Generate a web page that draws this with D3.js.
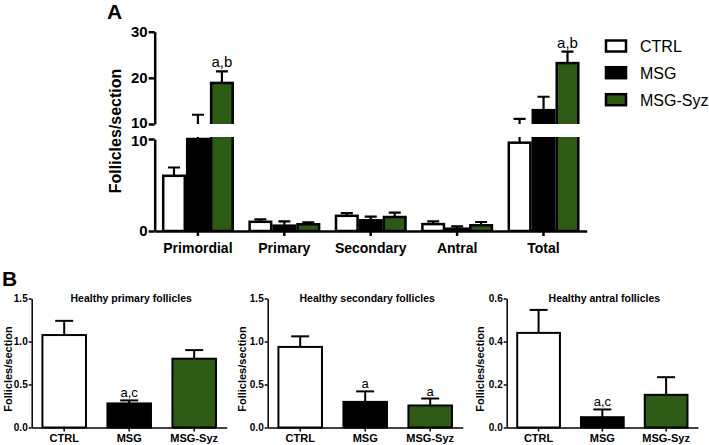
<!DOCTYPE html>
<html><head><meta charset="utf-8">
<script src="https://cdn.jsdelivr.net/npm/d3@7"></script>
<style>
body{margin:0;background:#fff;}
svg{display:block;font-family:"Liberation Sans",Arial,Helvetica,sans-serif;}
</style></head>
<body><svg id="c" width="709" height="445"></svg>
<script>
// ---------- DATA ----------
const categoriesA = ["Primordial","Primary","Secondary","Antral","Total"];
const seriesNames = ["CTRL","MSG","MSG-Syz"];
const seriesColors = ["#ffffff","#000000","#2d5a14"];
const ctrlA    = [6.0, 1.0, 1.65, 0.75, 9.6];
const ctrlErrA = [0.9, 0.27, 0.3, 0.3, 1.5];
const msgA     = [10.0, 0.58, 1.16, 0.25, 13.0];
const msgErrA  = [2.0, 0.47, 0.4, 0.25, 2.9];
const syzA     = [18.9, 0.73, 1.52, 0.62, 23.2];
const syzErrA  = [2.5, 0.21, 0.47, 0.36, 2.5];
const labelsA  = [["","","a,b"],["","",""],["","",""],["","",""],["","","a,b"]];
const lowerTicksA = [0, 10];
const upperTicksA = [10, 20, 30];

const categoriesB = ["CTRL","MSG","MSG-Syz"];
const primaryB     = [1.075, 0.28, 0.80];
const primaryErrB  = [0.165, 0.035, 0.10];
const primaryLblB  = ["", "a,c", ""];
const secondaryB    = [0.937, 0.298, 0.256];
const secondaryErrB = [0.123, 0.122, 0.081];
const secondaryLblB = ["", "a", "a"];
const antralB    = [0.44, 0.048, 0.152];
const antralErrB = [0.107, 0.036, 0.082];
const antralLblB = ["", "a,c", ""];
const ticksB1 = [0, 0.5, 1.0, 1.5];
const ticksB3 = [0, 0.2, 0.4, 0.6];

// ---------- PANEL A ----------
const svg = d3.select("#c");
const A = svg.append("g");
const axL = 154.7, axR = 586.7;
const yLow = d3.scaleLinear().domain([0,10]).range([231,139]);
const yUp  = d3.scaleLinear().domain([10,30]).range([124,31.7]);
const x0 = d3.scaleBand().domain(categoriesA).range([axL,axR]).padding(0);
const x1 = d3.scaleBand().domain(seriesNames).range([8.5,78]).paddingInner(0.1);

const defs = svg.append("defs");
defs.append("clipPath").attr("id","clipLow").append("rect")
  .attr("x",axL).attr("y",yLow(10)-2).attr("width",axR-axL).attr("height",yLow(0)-yLow(10)+2);
defs.append("clipPath").attr("id","clipUp").append("rect")
  .attr("x",axL).attr("y",0).attr("width",axR-axL).attr("height",yUp(10));

const valsA = [ctrlA, msgA, syzA];
const errsA = [ctrlErrA, msgErrA, syzErrA];
const recs = [];
categoriesA.forEach((c,i)=>seriesNames.forEach((s,j)=>recs.push({c,s,j,v:valsA[j][i],e:errsA[j][i],lab:labelsA[i][j]})));

const segs = [{y:yLow, clip:"clipLow", lo:0, hi:10},{y:yUp, clip:"clipUp", lo:10, hi:30}];
segs.forEach(sg=>{
  const g = A.append("g").attr("clip-path",`url(#${sg.clip})`);
  recs.forEach(d=>{
    const bx = x0(d.c)+x1(d.s), bw = x1.bandwidth();
    const cx = bx+bw/2;
    const eTop = d.v+d.e;
    g.append("line").attr("x1",cx).attr("x2",cx)
      .attr("y1",sg.y(Math.max(d.v,sg.lo-1))).attr("y2",sg.y(eTop))
      .attr("stroke","#000").attr("stroke-width",2.2);
    g.append("line").attr("x1",cx-6).attr("x2",cx+6)
      .attr("y1",sg.y(eTop)).attr("y2",sg.y(eTop))
      .attr("stroke","#000").attr("stroke-width",2.2);
    if (d.v > sg.lo) {
      const yb = sg.y(sg.lo)+ (sg.lo>0?4:0);
      g.append("rect").attr("x",bx).attr("width",bw)
        .attr("y",sg.y(d.v)).attr("height",yb-sg.y(d.v))
        .attr("fill",seriesColors[d.j]).attr("stroke","#000").attr("stroke-width",2.5);
    }
  });
});
recs.filter(d=>d.lab).forEach(d=>{
  const cx = x0(d.c)+x1(d.s)+x1.bandwidth()/2;
  const y = d.v+d.e>10 ? yUp(d.v+d.e) : yLow(d.v+d.e);
  A.append("text").attr("x",cx).attr("y",y-4).attr("text-anchor","middle")
    .attr("font-size",15).text(d.lab);
});

function styleAxis(g, sw, fs){
  g.selectAll("path,line").attr("stroke","#000").attr("stroke-width",sw);
  g.selectAll("text").attr("font-size",fs).attr("font-weight","bold").attr("fill","#000")
   .attr("font-family",'"Liberation Sans",Arial,sans-serif');
}
const gl = A.append("g").attr("transform",`translate(${axL},0)`)
  .call(d3.axisLeft(yLow).tickValues(lowerTicksA).tickSize(6).tickSizeOuter(0).tickPadding(1).tickFormat(d3.format("d")));
styleAxis(gl,2.5,15);
gl.selectAll(".tick text").filter(d=>d===10).attr("dy","0.42em");
const gu = A.append("g").attr("transform",`translate(${axL},0)`)
  .call(d3.axisLeft(yUp).tickValues(upperTicksA).tickSize(6).tickSizeOuter(0).tickPadding(1).tickFormat(d3.format("d")));
styleAxis(gu,2.5,15);
gu.selectAll(".tick text").filter(d=>d===10).attr("dy","0.22em");
const gx = A.append("g").attr("transform",`translate(0,${yLow(0)})`)
  .call(d3.axisBottom(x0).tickSize(5).tickSizeOuter(0).tickPadding(5));
styleAxis(gx,2.5,14);
gx.selectAll("text").attr("dy","0.85em");

A.append("text").attr("transform","translate(121,131) rotate(-90)").attr("text-anchor","middle")
  .attr("font-size",16).attr("font-weight","bold").text("Follicles/section");
svg.append("text").attr("x",107).attr("y",19).attr("font-size",21).attr("font-weight","bold").text("A");

const leg = svg.append("g");
const legY = [46, 72.7, 99.7];
seriesNames.forEach((s,j)=>{
  leg.append("rect").attr("x",606).attr("y",legY[j]-5.5).attr("width",20).attr("height",11)
    .attr("fill",seriesColors[j]).attr("stroke","#000").attr("stroke-width",2.5);
  leg.append("text").attr("x",640).attr("y",legY[j]+6).attr("font-size",16).text(s);
});

// ---------- PANEL B ----------
svg.append("text").attr("x",2).attr("y",286).attr("font-size",21).attr("font-weight","bold").text("B");

function drawSub(x0p, x1p, ytitleX, title, vals, errs, lbls, ticks, ymax){
  const g = svg.append("g");
  const y = d3.scaleLinear().domain([0,ymax]).range([427.5,298.5]);
  const x = d3.scaleBand().domain(categoriesB).range([x0p,x1p]).paddingInner(0.33).paddingOuter(0.165);
  categoriesB.forEach((c,j)=>{
    const cx = x(c)+x.bandwidth()/2;
    const t = vals[j]+errs[j];
    g.append("line").attr("x1",cx).attr("x2",cx).attr("y1",y(vals[j])).attr("y2",y(t))
      .attr("stroke","#000").attr("stroke-width",2);
    g.append("line").attr("x1",cx-9).attr("x2",cx+9).attr("y1",y(t)).attr("y2",y(t))
      .attr("stroke","#000").attr("stroke-width",2);
    g.append("rect").attr("x",x(c)).attr("width",x.bandwidth()).attr("y",y(vals[j]))
      .attr("height",y(0)-y(vals[j])).attr("fill",seriesColors[j])
      .attr("stroke","#000").attr("stroke-width",2);
    if (lbls[j]) g.append("text").attr("x",cx).attr("y",y(t)-3).attr("text-anchor","middle")
      .attr("font-size",13).text(lbls[j]);
  });
  const ga = g.append("g").attr("transform",`translate(${x0p},0)`)
    .call(d3.axisLeft(y).tickValues(ticks).tickSize(3).tickSizeOuter(0).tickPadding(1).tickFormat(d3.format(".1f")));
  styleAxis(ga,1.5,10);
  const gb = g.append("g").attr("transform",`translate(0,${y(0)})`)
    .call(d3.axisBottom(x).tickSize(4).tickSizeOuter(0).tickPadding(3));
  styleAxis(gb,1.5,11);
  g.append("text").attr("x",(x0p+x1p)/2+2).attr("y",302).attr("text-anchor","middle")
    .attr("font-size",10.5).attr("font-weight","bold").text(title);
  g.append("text").attr("transform",`translate(${ytitleX},369) rotate(-90)`).attr("text-anchor","middle")
    .attr("font-size",11).attr("font-weight","bold").text("Follicles/section");
}
drawSub(31.7, 226.7, 11.5, "Healthy primary follicles", primaryB, primaryErrB, primaryLblB, ticksB1, 1.5);
drawSub(267.7, 462.7, 246, "Healthy secondary follicles", secondaryB, secondaryErrB, secondaryLblB, ticksB1, 1.5);
drawSub(506.7, 698, 484, "Healthy antral follicles", antralB, antralErrB, antralLblB, ticksB3, 0.6);
</script>
</body></html>
